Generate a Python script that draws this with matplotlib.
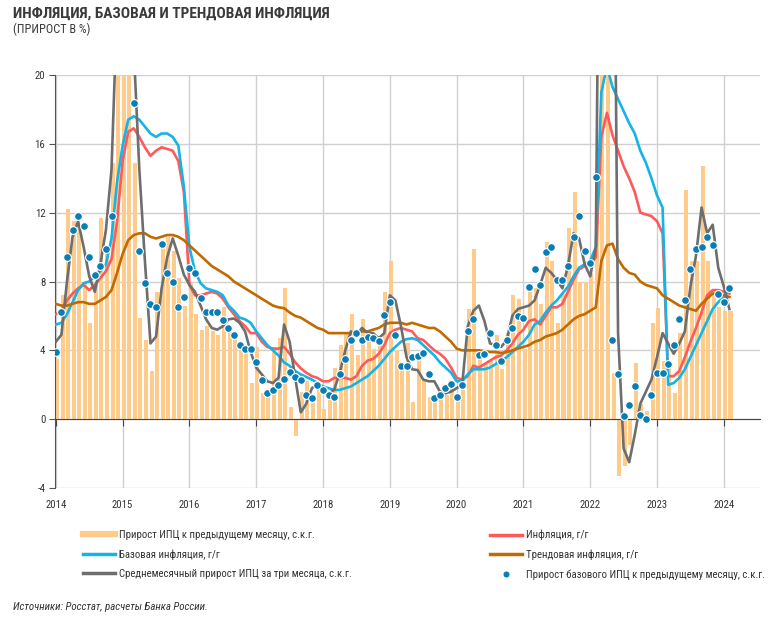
import numpy as np
import matplotlib
matplotlib.use('Agg')
import matplotlib.pyplot as plt
from matplotlib import font_manager as fm
from matplotlib.lines import Line2D

# monthly data, Jan 2014 .. Feb 2024 (% SAAR / % y/y)
years = list(range(2014, 2025))

cpi_mom = [3.5, 7.2, 12.2, 11.5, 11.2, 8.0, 5.6, 7.9, 11.7, 9.9, 14.9, 30.0,
           30.0, 22.0, 14.9, 5.9, 4.6, 2.8, 7.4, 10.3, 10.6, 9.8, 8.2, 6.6,
           7.9, 6.1, 5.2, 5.4, 5.1, 4.9, 6.5, 5.3, 5.0, 4.4, 3.9, 2.1,
           4.2, 1.5, 1.5, 3.9, 4.7, 7.6, 0.7, -1.0, 1.6, 2.2, 1.4, 1.9,
           0.6, 1.2, 3.0, 4.3, 5.0, 6.1, 3.7, 5.8, 4.6, 4.1, 4.4, 7.4,
           9.2, 4.0, 3.3, 4.4, 1.0, 3.6, 2.3, 1.3, 1.1, 1.7, 1.4, 1.8,
           1.2, 1.7, 6.4, 9.9, 3.9, 3.2, 3.4, 4.9, 2.9, 5.0, 7.2, 7.0,
           4.1, 7.5, 7.6, 6.7, 10.3, 9.2, 5.6, 7.3, 11.1, 13.2, 8.0, 8.0,
           8.5, 12.4, 30.0, 30.0, 2.7, -3.3, -2.7, -1.5, 3.25, 0.9, 0.5, 5.6,
           6.45, 3.4, 3.1, 1.5, 5.0, 13.3, 9.2, 9.2, 14.7, 9.2, 7.5, 6.5,
           6.3, 6.3]

infl_yoy = [6.1, 6.3, 6.9, 7.3, 7.6, 7.8, 7.5, 7.8, 8.2, 8.6, 9.3, 11.5,
            15.0, 16.7, 16.9, 16.4, 15.8, 15.3, 15.6, 15.8, 15.7, 15.6, 15.0, 13.2,
            7.8, 7.2, 7.2, 7.3, 7.4, 7.3, 7.0, 6.5, 6.1, 5.7, 5.4, 5.0,
            5.0, 4.5, 4.2, 4.1, 4.1, 4.2, 3.8, 3.3, 2.95, 2.7, 2.5, 2.4,
            2.2, 2.2, 2.4, 2.4, 2.4, 2.3, 2.5, 3.1, 3.4, 3.5, 3.8, 4.3,
            5.0, 5.2, 5.3, 5.2, 5.1, 4.7, 4.6, 4.3, 4.0, 3.8, 3.5, 3.0,
            2.4, 2.3, 2.5, 3.1, 3.0, 3.2, 3.4, 3.6, 3.7, 4.0, 4.4, 4.9,
            5.2, 5.7, 5.8, 5.5, 6.0, 6.5, 6.5, 6.7, 7.4, 8.1, 8.7, 8.9,
            9.0, 9.4, 16.4, 17.8, 16.5, 15.6, 14.7, 14.0, 13.2, 12.0, 11.9, 11.8,
            11.5, 10.8, 2.5, 2.5, 2.8, 3.6, 4.5, 5.3, 6.2, 7.2, 7.5, 7.5,
            7.4, 7.3]

core_yoy = [5.5, 5.6, 6.1, 6.8, 7.5, 7.9, 8.0, 8.3, 8.6, 9.0, 10.5, 13.8,
            15.9, 17.4, 17.6, 17.4, 17.0, 16.6, 16.4, 16.6, 16.6, 16.4, 15.9, 13.5,
            10.0, 8.6, 7.9, 7.6, 7.5, 7.4, 7.2, 6.6, 6.3, 5.9, 5.8, 5.6,
            5.1, 4.7, 4.3, 4.0, 3.7, 3.3, 3.1, 2.8, 2.6, 2.45, 2.3, 2.1,
            1.9, 1.8, 1.7, 1.7, 1.8, 1.9, 2.1, 2.3, 2.5, 2.8, 3.1, 3.5,
            3.9, 4.2, 4.5, 4.65, 4.7, 4.6, 4.3, 4.0, 3.7, 3.3, 3.0, 2.7,
            2.2, 2.2, 2.6, 2.9, 2.9, 2.9, 3.0, 3.2, 3.4, 3.6, 3.9, 4.2,
            4.5, 4.9, 5.5, 5.7, 6.2, 6.6, 6.9, 7.3, 7.7, 8.3, 8.8, 9.0,
            9.2, 10.0, 19.0, 20.5, 19.3, 18.6, 17.9, 17.2, 16.6, 15.6, 14.9, 14.0,
            13.0, 12.3, 2.0, 2.1, 2.4, 2.9, 3.6, 4.3, 5.0, 5.7, 6.4, 6.8,
            7.1, 7.5]

trend_yoy = [6.7, 6.6, 6.6, 6.7, 6.8, 6.8, 6.7, 6.7, 6.9, 7.1, 7.5, 8.5,
             9.6, 10.4, 10.7, 10.8, 10.8, 10.6, 10.5, 10.6, 10.7, 10.7, 10.6, 10.4,
             10.1, 9.8, 9.5, 9.2, 8.9, 8.7, 8.5, 8.3, 8.0, 7.8, 7.6, 7.4,
             7.2, 7.0, 6.8, 6.6, 6.5, 6.45, 6.2, 6.0, 5.9, 5.7, 5.5, 5.3,
             5.2, 5.0, 5.0, 5.0, 5.0, 5.0, 5.0, 5.1, 5.1, 5.2, 5.3, 5.5,
             5.6, 5.6, 5.6, 5.5, 5.6, 5.5, 5.4, 5.3, 5.3, 5.1, 4.8, 4.5,
             4.1, 4.0, 4.0, 4.0, 4.0, 3.95, 3.9, 3.9, 3.85, 3.9, 4.0, 4.1,
             4.2, 4.3, 4.5, 4.6, 4.8, 4.9, 5.0, 5.2, 5.5, 5.8, 6.0, 6.1,
             6.3, 6.5, 9.2, 10.1, 10.2, 9.3, 8.8, 8.5, 8.4, 8.0, 7.8, 7.7,
             7.6, 7.2, 7.0, 6.8, 6.6, 6.5, 6.4, 6.3, 6.7, 7.0, 7.3, 7.3,
             7.2, 7.1]

cpi_3m = [4.5, 4.9, 8.0, 10.6, 11.5, 10.0, 8.3, 7.4, 9.0, 11.0, 14.5, 24.0,
          30.0, 28.0, 21.5, 14.5, 9.2, 4.4, 4.8, 7.6, 9.4, 10.5, 9.5, 8.4,
          7.8, 7.4, 6.6, 5.8, 5.3, 5.2, 5.4, 5.8, 5.85, 5.6, 5.1, 3.9,
          3.0, 2.6, 2.2, 2.1, 2.4, 5.5, 4.5, 2.4, 0.4, 0.9, 1.8, 2.0,
          1.8, 1.5, 1.7, 2.7, 4.0, 5.1, 4.9, 5.3, 5.0, 5.0, 4.7, 5.0,
          7.2, 6.9, 5.4, 3.6, 2.9, 2.85, 2.3, 2.2, 2.2, 1.6, 1.5, 1.6,
          1.8, 2.0, 5.4, 6.3, 6.6, 5.7, 4.4, 4.3, 4.2, 4.6, 6.0, 6.4,
          6.5, 6.6, 6.9, 7.8, 8.8, 8.5, 8.1, 7.6, 8.9, 10.8, 10.5, 9.0,
          8.3, 10.0, 45.0, 50.0, 42.0, 5.0, -1.7, -2.5, -0.9, 0.9, 1.6, 2.3,
          3.6, 5.0, 4.4, 3.8, 4.4, 5.1, 7.7, 9.5, 12.3, 10.8, 11.3, 8.8,
          7.7, 6.4]

core_mom = [3.9, 6.2, 9.4, 11.0, 11.8, 11.2, 9.4, 8.4, 8.9, 9.9, 11.8, 35.0,
            40.0, 25.0, 18.4, 9.8, 7.9, 6.7, 6.5, 10.2, 8.5, 8.0, 6.5, 7.1,
            8.8, 8.5, 7.05, 6.2, 6.25, 6.2, 5.75, 5.3, 4.9, 4.3, 4.07, 4.07,
            3.3, 2.27, 1.5, 1.7, 2.0, 2.36, 2.75, 2.46, 2.3, 1.4, 1.24, 2.0,
            1.7, 1.4, 1.3, 2.6, 3.5, 4.6, 5.0, 4.6, 4.8, 4.7, 4.55, 6.05,
            6.8, 4.9, 3.1, 3.1, 3.6, 3.66, 3.86, 2.65, 1.24, 1.4, 1.8, 2.07,
            1.3, 2.0, 5.1, 5.8, 3.7, 3.8, 5.0, 4.3, 3.4, 4.6, 5.3, 6.0,
            5.9, 7.7, 8.7, 7.8, 9.7, 10.0, 8.1, 8.1, 8.9, 10.6, 11.8, 9.8,
            9.1, 14.1, 35.0, 30.0, 4.6, 2.6, 0.17, 0.8, 1.9, 0.23, 0.0, 1.43,
            2.7, 2.7, 3.2, 4.3, 5.8, 6.9, 8.7, 9.9, 10.0, 10.6, 10.1, 7.25,
            6.8, 7.65]

C_BAR = '#FECB8B'
C_RED = '#FF5A5A'
C_BLUE = '#14B4E6'
C_BROWN = '#C06A00'
C_GRAY = '#6E6E6E'
C_DOT = '#0A7DB5'
C_TEXT = '#333333'


def pick_narrow_font():
    # look for a condensed face; the reference uses a narrow sans
    entries = [(f.name, str(f.stretch), f.fname) for f in fm.fontManager.ttflist]
    for fam in ['Liberation Sans Narrow', 'Roboto Condensed', 'Open Sans Condensed',
                'Noto Sans Condensed', 'DejaVu Sans Condensed']:
        if any(n == fam for n, _, _ in entries):
            return fam, 'normal'
    for fam in ['Noto Sans', 'Open Sans', 'Roboto', 'DejaVu Sans']:
        for n, st, path in entries:
            if n == fam and ('condensed' in st or 'Condensed' in path):
                return fam, 'condensed'
    return 'DejaVu Sans', 'normal'


def fit_size(fig, text, size, target_px, **kw):
    # font size at which `text` is target_px wide
    probe = fig.text(0, 0, text, fontsize=size, **kw)
    fig.canvas.draw()
    w = probe.get_window_extent().width
    probe.remove()
    return size * target_px / w


fam, stretch = pick_narrow_font()
plt.rcParams['font.family'] = [fam, 'DejaVu Sans']
plt.rcParams['font.stretch'] = stretch
plt.rcParams['axes.unicode_minus'] = False

months = np.arange(len(cpi_mom))

fig = plt.figure(figsize=(7.74, 6.23), dpi=100)

fs_title = min(12.0, fit_size(fig, 'ИНФЛЯЦИЯ, БАЗОВАЯ И ТРЕНДОВАЯ ИНФЛЯЦИЯ', 11.5, 317,
                              fontweight='bold'))
fs_sub = min(9.0, fit_size(fig, '(ПРИРОСТ В %)', 8.5, 77))
fs_leg = min(9.0, fit_size(fig, 'Среднемесячный прирост ИПЦ за три месяца, с.к.г.', 8.5, 233))
fs_src = min(8.5, fit_size(fig, 'Источники: Росстат, расчеты Банка России.', 8.0, 195,
                           style='italic'))
fs_tick = fs_leg

ax = fig.add_axes([55/774, 1 - 488/623, (760 - 55)/774, (488 - 75)/623])

ax.bar(months + 0.2, cpi_mom, width=0.72, color=C_BAR, zorder=2)
ax.plot(months, infl_yoy, color=C_RED, lw=1.9, zorder=3)
ax.plot(months, core_yoy, color=C_BLUE, lw=1.9, zorder=4)
ax.plot(months, trend_yoy, color=C_BROWN, lw=1.9, zorder=4)
ax.plot(months, cpi_3m, color=C_GRAY, lw=1.9, zorder=5)
ax.plot(months, core_mom, ls='none', marker='o', ms=5.6, mfc=C_DOT,
        mec='white', mew=0.8, zorder=6)

ax.set_xlim(-0.15, 126.5)
ax.set_ylim(-4, 20)
ax.set_yticks(range(-4, 21, 4))
year_pos = [12 * i for i in range(len(years))]
ax.set_xticks(year_pos)
ax.grid(True, color='#D0D0D0', lw=1.0, zorder=0)
ax.set_axisbelow(True)

for s in ['top', 'right']:
    ax.spines[s].set_visible(False)
ax.spines['left'].set_color('#555555')
ax.spines['bottom'].set_position(('data', 0))
ax.spines['bottom'].set_color('#444444')
ax.spines['bottom'].set_zorder(2.5)
ax.tick_params(axis='x', length=5, color='#444444', labelbottom=False)
ax.tick_params(axis='y', length=4, color='#555555', labelsize=fs_tick,
               labelcolor=C_TEXT, pad=3)

sec = ax.secondary_xaxis(0)
sec.set_xticks(year_pos, labels=[str(y) for y in years])
sec.tick_params(length=0, labelsize=fs_tick, labelcolor=C_TEXT, pad=9)
sec.spines['bottom'].set_visible(False)

fig.text(13/774, 1 - 14/623, 'ИНФЛЯЦИЯ, БАЗОВАЯ И ТРЕНДОВАЯ ИНФЛЯЦИЯ',
         fontsize=fs_title, fontweight='bold', color='#3A3A3A', va='center', ha='left')
fig.text(13/774, 1 - 29/623, '(ПРИРОСТ В %)', fontsize=fs_sub,
         color='#3A3A3A', va='center', ha='left')
fig.text(13/774, 1 - 607/623, 'Источники: Росстат, расчеты Банка России.',
         fontsize=fs_src, style='italic', color=C_TEXT, va='center', ha='left')

left_handles = [Line2D([], [], color=C_BAR, lw=4.5),
                Line2D([], [], color=C_BLUE, lw=2.5),
                Line2D([], [], color=C_GRAY, lw=2.5)]
left_labels = ['Прирост ИПЦ к предыдущему месяцу, с.к.г.',
               'Базовая инфляция, г/г',
               'Среднемесячный прирост ИПЦ за три месяца, с.к.г.']
right_handles = [Line2D([], [], color=C_RED, lw=2.5),
                 Line2D([], [], color=C_BROWN, lw=2.5),
                 Line2D([], [], ls='none', marker='o', ms=5, mfc=C_DOT,
                        mec='white', mew=0.6)]
right_labels = ['Инфляция, г/г',
                'Трендовая инфляция, г/г',
                'Прирост базового ИПЦ к предыдущему месяцу, с.к.г.']

fpx = fs_leg * 100 / 72
for handles, labels, x0 in [(left_handles, left_labels, 83),
                            (right_handles, right_labels, 490)]:
    leg = fig.legend(handles, labels, loc='upper left',
                     bbox_to_anchor=(x0/774, 1 - 530/623), frameon=False,
                     fontsize=fs_leg, handlelength=32 / fpx,
                     handletextpad=4 / fpx,
                     labelspacing=(22 - 1.2 * fpx) / fpx,
                     borderpad=0, borderaxespad=0)
    for t in leg.get_texts():
        t.set_color(C_TEXT)

fig.savefig('out.png', dpi=100)
